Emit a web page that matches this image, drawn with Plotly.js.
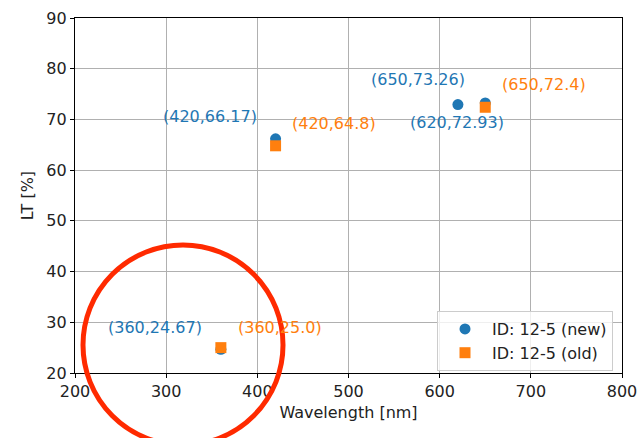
<!DOCTYPE html>
<html><head><meta charset="utf-8">
<script src="https://cdn.plot.ly/plotly-3.0.1.min.js"></script>
<style>body{margin:0;background:#fff}#c{width:640px;height:438px}</style>
</head><body><div id="c"></div>
<script>
const newX = [360, 420, 620, 650];
const newY = [24.67, 66.17, 72.93, 73.26];
const newLabels = ["(360,24.67)", "(420,66.17)", "(620,72.93)", "(650,73.26)"];
const oldX = [360, 420, 650];
const oldY = [25.0, 64.8, 72.4];
const oldLabels = ["(360,25.0)", "(420,64.8)", "(650,72.4)"];
const xTicks = [200, 300, 400, 500, 600, 700, 800];
const yTicks = [20, 30, 40, 50, 60, 70, 80, 90];

const BLUE = "#1f77b4", ORANGE = "#ff7f0e";
const FONT = "DejaVu Sans";
const FS = 16;

const newShifts = [[-66, 22], [-66, 22], [-1, -18], [-67, 23]];
const oldShifts = [[59, 20], [58, 22], [59, 23]];

const annotations = [];
newX.forEach((x, i) => annotations.push({
  x: x, y: newY[i], xref: "x", yref: "y", text: newLabels[i], showarrow: false,
  xshift: newShifts[i][0], yshift: newShifts[i][1], font: {family: FONT, size: FS, color: BLUE}
}));
oldX.forEach((x, i) => annotations.push({
  x: x, y: oldY[i], xref: "x", yref: "y", text: oldLabels[i], showarrow: false,
  xshift: oldShifts[i][0], yshift: oldShifts[i][1], font: {family: FONT, size: FS, color: ORANGE}
}));

const data = [
  {x: newX, y: newY, type: "scatter", mode: "markers", name: "ID: 12-5 (new)",
   marker: {symbol: "circle", size: 11, color: BLUE}},
  {x: oldX, y: oldY, type: "scatter", mode: "markers", name: "ID: 12-5 (old)",
   marker: {symbol: "square", size: 11, color: ORANGE}}
];

// plot area in pixels: left 75, right 622, top 18, bottom 373
const W = 547, H = 355;
const cx = 183, cy = 345, r = 100;
const px = p => (p - 75) / W;
const py = p => (373 - p) / H;

const layout = {
  width: 640, height: 438,
  margin: {l: 75, r: 18, t: 18, b: 65},
  paper_bgcolor: "#fff", plot_bgcolor: "#fff",
  font: {family: FONT, size: FS, color: "#222"},
  showlegend: true,
  legend: {x: px(437), y: py(311), xanchor: "left", yanchor: "top",
    bgcolor: "rgba(255,255,255,0.8)", bordercolor: "#cccccc", borderwidth: 1,
    itemwidth: 44,
    font: {family: FONT, size: FS, color: "#222"}, tracegroupgap: 0},
  xaxis: {range: [200, 800], tickvals: xTicks, ticktext: xTicks.map(String),
    showgrid: true, gridcolor: "#b0b0b0", gridwidth: 1,
    showline: true, linecolor: "#000", linewidth: 1.2, mirror: true,
    ticks: "outside", ticklen: 4, tickcolor: "#000", zeroline: false,
    title: {text: "Wavelength [nm]", font: {family: FONT, size: FS, color: "#222"}, standoff: 6}},
  yaxis: {range: [20, 90], tickvals: yTicks, ticktext: yTicks.map(String),
    showgrid: true, gridcolor: "#b0b0b0", gridwidth: 1,
    showline: true, linecolor: "#000", linewidth: 1.2, mirror: true,
    ticks: "outside", ticklen: 4, tickcolor: "#000", zeroline: false,
    title: {text: "LT [%]", font: {family: FONT, size: FS, color: "#222"}, standoff: 8}},
  annotations: annotations,
  shapes: [{type: "circle", xref: "paper", yref: "paper", layer: "above",
    x0: px(cx - r), x1: px(cx + r), y0: py(cy + r), y1: py(cy - r),
    line: {color: "#ff2a00", width: 5}}]
};

Plotly.newPlot("c", data, layout, {displayModeBar: false, staticPlot: true});
</script>
</body></html>
